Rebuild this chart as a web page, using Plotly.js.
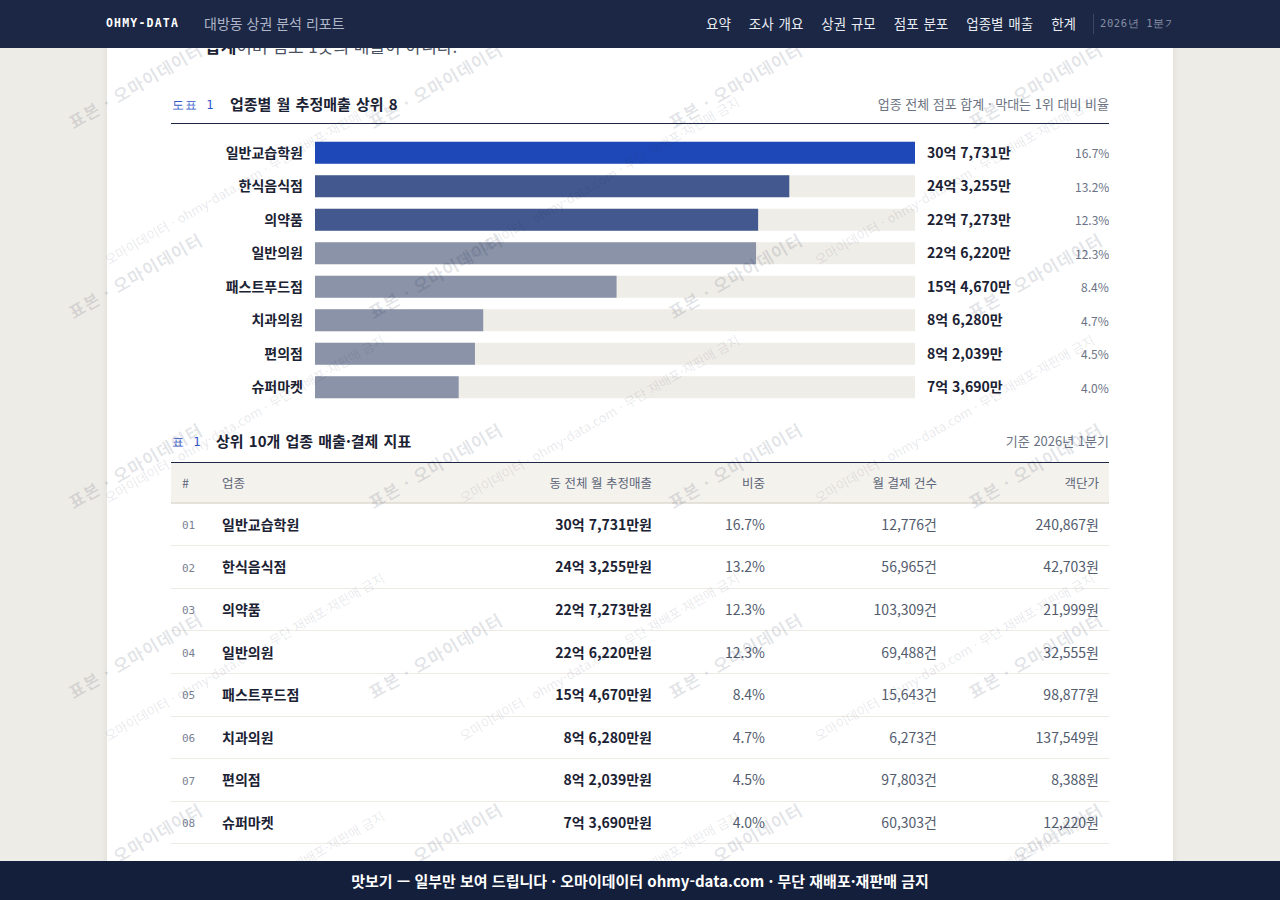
<!DOCTYPE html>
<html lang="ko">
<head>
<meta charset="utf-8">
<script src="https://cdn.plot.ly/plotly-3.0.1.min.js"></script>
<style>
*{box-sizing:border-box;margin:0;padding:0}
html,body{width:1280px;height:900px;overflow:hidden;background:#eeece7;font-family:"Noto Sans CJK KR","Noto Sans",sans-serif;}
#card{position:absolute;left:107px;top:0;width:1066px;height:900px;background:#fff;box-shadow:0 0 8px rgba(0,0,0,0.07);}
#nav{position:absolute;left:0;top:0;width:1280px;height:48px;background:#1b2744;z-index:20;}
#nav .logo{position:absolute;left:106px;top:15px;font-family:"DejaVu Sans Mono",monospace;font-weight:700;font-size:11.5px;letter-spacing:1.2px;color:#fff;line-height:16px;}
#nav .sub{position:absolute;left:204px;top:13px;font-size:14px;color:#aeb6c8;line-height:20px;}
#nav .menu{position:absolute;left:706px;top:13px;display:flex;gap:18px;font-size:13.5px;word-spacing:1px;color:#e8ebf2;line-height:20px;white-space:nowrap;}
#nav .sep{position:absolute;left:1093px;top:14px;width:1px;height:20px;background:#3a4767;}
#nav .q{position:absolute;left:1100px;top:16px;width:73px;overflow:hidden;white-space:nowrap;font-family:"DejaVu Sans Mono",monospace;font-size:10.5px;letter-spacing:0.6px;color:#8790a6;line-height:14px;}
#foot{position:absolute;left:0;top:861px;width:1280px;height:39px;background:#141f3c;z-index:20;color:#fff;font-weight:700;font-size:15px;line-height:39px;text-align:center;}
#lead{position:absolute;left:205px;top:35px;font-size:17px;line-height:22px;color:#4b5363;white-space:nowrap;}
#lead b{color:#1b2233;}
.sec{position:absolute;left:171px;width:938px;height:24px;}
.sec .tag{position:absolute;left:1px;top:3px;font-family:"DejaVu Sans Mono",monospace;font-size:12px;letter-spacing:1px;color:#2f55c8;line-height:18px;}
.sec .ttl{position:absolute;top:1px;font-size:15px;font-weight:700;color:#1b2233;line-height:20px;word-spacing:1px;}
.sec .note{position:absolute;right:0;top:2px;font-size:13px;color:#6b7282;line-height:18px;}
.rule{position:absolute;left:171px;width:938px;height:1px;background:#1b2744;}
#chart{position:absolute;left:171px;top:130px;width:938px;height:280px;}
#table{position:absolute;left:171px;top:463px;width:938px;height:420px;}
#wm{position:absolute;left:0;top:48px;width:1280px;height:813px;z-index:15;pointer-events:none;overflow:hidden;}
#wm span{position:absolute;white-space:nowrap;transform-origin:0 100%;}
#wm .big{font-size:17px;font-weight:700;color:rgba(30,40,70,0.13);letter-spacing:1px;line-height:20px;}
#wm .small{font-size:13px;color:rgba(30,40,70,0.11);line-height:16px;}
</style>
</head>
<body>
<div id="card"></div>
<div id="lead"><b>합계</b>이며 점포 1곳의 매출이 아니다.</div>

<div class="sec" style="top:93px"><span class="tag">도표 1</span><span class="ttl" style="left:59px">업종별 월 추정매출 상위 8</span><span class="note">업종 전체 점포 합계 · 막대는 1위 대비 비율</span></div>
<div class="rule" style="top:123px"></div>
<div id="chart"></div>

<div class="sec" style="top:430px"><span class="tag">표 1</span><span class="ttl" style="left:45px">상위 10개 업종 매출·결제 지표</span><span class="note">기준 2026년 1분기</span></div>
<div class="rule" style="top:462px"></div>
<div id="table"></div>

<div id="wm"></div>

<div id="nav">
  <span class="logo">OHMY-DATA</span>
  <span class="sub">대방동 상권 분석 리포트</span>
  <div class="menu"><span>요약</span><span>조사 개요</span><span>상권 규모</span><span>점포 분포</span><span>업종별 매출</span><span>한계</span></div>
  <span class="sep"></span>
  <span class="q">2026년 1분기</span>
</div>
<div id="foot">맛보기 — 일부만 보여 드립니다 · 오마이데이터 ohmy-data.com · 무단 재배포·재판매 금지</div>

<script>
// ---- data ----
const categories = ['일반교습학원','한식음식점','의약품','일반의원','패스트푸드점','치과의원','편의점','슈퍼마켓'];
const rankLabels = ['01','02','03','04','05','06','07','08'];
const revenueMan = [307731, 243255, 227273, 226220, 154670, 86280, 82039, 73690]; // 만원
const sharePct = [16.7, 13.2, 12.3, 12.3, 8.4, 4.7, 4.5, 4.0];
const payCount = [12776, 56965, 103309, 69488, 15643, 6273, 97803, 60303];
const unitPrice = [240867, 42703, 21999, 32555, 98877, 137549, 8388, 12220];
const tableHeaders = ['#','업종','동 전체 월 추정매출','비중','월 결제 건수','객단가'];

// ---- helpers ----
const FONT = '"Noto Sans CJK KR", "Noto Sans", sans-serif';
const MONO = '"DejaVu Sans Mono", monospace';
const nf = n => n.toLocaleString('en-US');
const fmtEok = m => Math.floor(m / 10000) + '억 ' + nf(m % 10000) + '만';
const config = {staticPlot: true, displayModeBar: false};

// ---- bar chart ----
(function(){
  const W = 938, H = 280;
  const maxV = Math.max(...revenueMan);
  const colors = revenueMan.map((v, i) => i === 0 ? '#1e48b7' : (i < 3 ? '#42588e' : '#8a93a8'));
  const traces = [
    {type:'bar', orientation:'h', y:categories, x:categories.map(() => maxV),
     marker:{color:'#efede8', line:{width:0}}, hoverinfo:'skip'},
    {type:'bar', orientation:'h', y:categories, x:revenueMan,
     marker:{color:colors, line:{width:0}}, hoverinfo:'skip'}
  ];
  const ann = [];
  categories.forEach((c, i) => {
    ann.push({xref:'paper', yref:'y', x:(927-171)/W, y:c, xanchor:'left', yanchor:'middle', showarrow:false, xshift:-2, yshift:1,
      text:fmtEok(revenueMan[i]), font:{family:FONT, size:14, color:'#1b2233', weight:700}});
    ann.push({xref:'paper', yref:'y', x:1, y:c, xanchor:'right', yanchor:'middle', showarrow:false, xshift:2, yshift:0,
      text:sharePct[i].toFixed(1) + '%', font:{family:FONT, size:12, color:'#6b7385'}});
  });
  const layout = {
    width:W, height:H, margin:{l:0, r:0, t:6, b:6},
    paper_bgcolor:'rgba(0,0,0,0)', plot_bgcolor:'rgba(0,0,0,0)',
    barmode:'overlay', bargap:0.35, showlegend:false,
    xaxis:{domain:[144/W, 744/W], range:[0, maxV], visible:false, fixedrange:true},
    yaxis:{autorange:'reversed', showgrid:false, zeroline:false, showline:false, ticks:'',
      ticklabelstandoff:11, tickfont:{family:FONT, size:14, color:'#1b2233', weight:700}},
    annotations: ann,
    font:{family:FONT}
  };
  Plotly.newPlot('chart', traces, layout, config);
})();

// ---- table ----
(function(){
  const W = 938, H = 420, headH = 40, rowH = 42.6, textDrop = 2;
  const rowY = categories.map((c, i) => headH + rowH * (i + 0.5) + textDrop);
  const bounds = categories.map((c, i) => headH + rowH * (i + 1));
  const colX = [11, 51, 481, 594, 766, 928];
  const colPos = ['middle right','middle right','middle left','middle left','middle left','middle left'];
  function col(xpos, texts, pos, font){
    return {type:'scatter', mode:'text', x:texts.map(() => xpos), y:rowY, text:texts,
      textposition:pos, textfont:font, hoverinfo:'skip', cliponaxis:false};
  }
  const grayFont = {family:FONT, size:14, color:'#535c6e'};
  const traces = [
    {type:'scatter', mode:'text', x:colX, y:tableHeaders.map(() => headH/2 + textDrop), text:tableHeaders,
     textposition:colPos, textfont:{family:FONT, size:12.5, color:'#5d6578'}, hoverinfo:'skip', cliponaxis:false},
    col(colX[0], rankLabels, colPos[0], {family:MONO, size:11, color:'#7a8194'}),
    col(colX[1], categories, colPos[1], {family:FONT, size:14, color:'#1b2233', weight:700}),
    col(colX[2], revenueMan.map(v => fmtEok(v) + '원'), colPos[2], {family:FONT, size:14, color:'#1b2233', weight:700}),
    col(colX[3], sharePct.map(v => v.toFixed(1) + '%'), colPos[3], grayFont),
    col(colX[4], payCount.map(v => nf(v) + '건'), colPos[4], grayFont),
    col(colX[5], unitPrice.map(v => nf(v) + '원'), colPos[5], grayFont)
  ];
  const layout = {
    width:W, height:H, margin:{l:0, r:0, t:0, b:0},
    paper_bgcolor:'rgba(0,0,0,0)', plot_bgcolor:'rgba(0,0,0,0)', showlegend:false,
    xaxis:{range:[0, W], visible:false, fixedrange:true},
    yaxis:{range:[H, 0], showticklabels:false, ticks:'', showline:false, zeroline:false,
      showgrid:true, tickmode:'array', tickvals:bounds, gridcolor:'#eeebe5', gridwidth:1},
    shapes:[
      {type:'rect', xref:'paper', yref:'y', x0:0, x1:1, y0:0, y1:headH, fillcolor:'#f4f2ed', line:{width:0}, layer:'below'},
      {type:'line', xref:'paper', yref:'y', x0:0, x1:1, y0:headH, y1:headH, line:{color:'#dedad1', width:1.5}, layer:'above'}
    ]
  };
  Plotly.newPlot('table', traces, layout, config);
})();

// ---- watermarks (layer starts below the 48px nav) ----
(function(){
  const wm = document.getElementById('wm');
  const top = 48;
  const bigText = '표본 · 오마이데이터';
  const smallText = '오마이데이터 · ohmy-data.com · 무단 재배포·재판매 금지';
  function put(cls, txt, x, y){
    const s = document.createElement('span');
    s.className = cls; s.textContent = txt;
    s.style.left = x + 'px'; s.style.top = (y - top) + 'px';
    s.style.transform = 'translateY(-100%) rotate(-30deg)';
    wm.appendChild(s);
  }
  for (let r = 0; r < 5; r++) for (let c = 0; c < 4; c++) put('big', bigText, 75 + 300*c, 132 + 190*r);
  for (let r = 1; r < 5; r++) for (let c = 0; c < 3; c++) put('small', smallText, 110 + 355*c, 30 + 238*r);
})();
</script>
</body>
</html>
